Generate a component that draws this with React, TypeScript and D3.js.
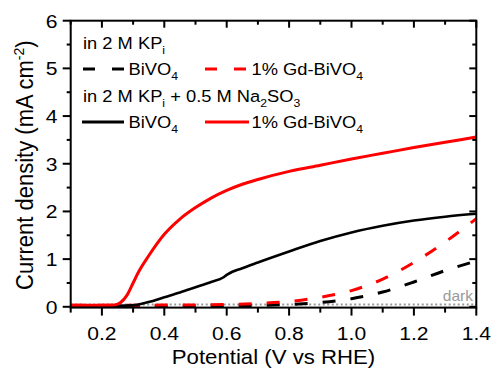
import React from "react";
import * as d3 from "d3";

const potBlackSolid = [0.10, 0.20, 0.25, 0.30, 0.35, 0.40, 0.45, 0.50, 0.55, 0.59, 0.60, 0.65, 0.70, 0.80, 0.90, 1.00, 1.10, 1.20, 1.30, 1.40];
const jBlackSolid = [0.02, 0.02, 0.02, 0.03, 0.10, 0.20, 0.30, 0.41, 0.52, 0.62, 0.67, 0.81, 0.93, 1.16, 1.38, 1.56, 1.70, 1.81, 1.89, 1.95];

const potRedSolid = [0.10, 0.20, 0.24, 0.26, 0.28, 0.30, 0.32, 0.35, 0.40, 0.45, 0.50, 0.55, 0.60, 0.65, 0.70, 0.80, 0.90, 1.00, 1.10, 1.20, 1.30, 1.40];
const jRedSolid = [0.03, 0.03, 0.04, 0.09, 0.24, 0.50, 0.76, 1.07, 1.52, 1.84, 2.08, 2.28, 2.44, 2.57, 2.67, 2.84, 2.97, 3.10, 3.22, 3.34, 3.45, 3.56];

const potBlackDash = [0.10, 0.60, 0.70, 0.80, 0.90, 1.00, 1.10, 1.20, 1.30, 1.40];
const jBlackDash = [0.01, 0.02, 0.03, 0.05, 0.09, 0.17, 0.31, 0.52, 0.76, 0.96];

const potRedDash = [0.10, 0.50, 0.60, 0.70, 0.80, 0.90, 1.00, 1.10, 1.20, 1.30, 1.40];
const jRedDash = [0.03, 0.04, 0.05, 0.07, 0.11, 0.20, 0.34, 0.58, 0.93, 1.36, 1.85];

const potDark = [0.10, 1.40];
const jDark = [0.05, 0.05];

const xMajorTicks = [0.2, 0.4, 0.6, 0.8, 1.0, 1.2, 1.4];
const xMinorTicks = [0.1, 0.3, 0.5, 0.7, 0.9, 1.1, 1.3];
const yMajorTicks = [0, 1, 2, 3, 4, 5, 6];
const yMinorTicks = [0.5, 1.5, 2.5, 3.5, 4.5, 5.5];

const W = 492, H = 370;
const L = 70.7, R = 476.3, T = 20.7, B = 307.6;
const FONT = "'Liberation Sans', Arial, sans-serif";
const SX = 1.11;

function ST(props: { x: number; y: number; fs: number; anchor?: string; fill?: string; children: any }) {
  return (
    <text
      transform={`translate(${props.x},${props.y}) scale(${SX},1)`}
      fontSize={props.fs}
      textAnchor={props.anchor || "start"}
      fill={props.fill || "#000"}
    >
      {props.children}
    </text>
  );
}

export default function App() {
  const x = d3.scaleLinear().domain([0.1, 1.4]).range([L, R]);
  const y = d3.scaleLinear().domain([0, 6]).range([306.8, T]);

  const mk = (xs: number[], ys: number[]) =>
    d3.line<number>().x((_, i) => x(xs[i])).y((_, i) => y(ys[i])).curve(d3.curveMonotoneX)(xs as any) || "";

  const series = [
    { d: mk(potDark, jDark), color: "#999", dash: "2,2.5", w: 2 },
    { d: mk(potBlackDash, jBlackDash), color: "#000", dash: "13,15", w: 3 },
    { d: mk(potRedDash, jRedDash), color: "#f00", dash: "13,15", w: 3 },
    { d: mk(potBlackSolid, jBlackSolid), color: "#000", dash: undefined, w: 2.6 },
    { d: mk(potRedSolid, jRedSolid), color: "#f00", dash: undefined, w: 3 },
  ];

  const legFs = 16.5;
  const subFs = 11;
  const sd = 4.5;

  return (
    <svg width={W} height={H} style={{ position: "absolute", left: 0, top: 0, background: "#fff" }} fontFamily={FONT}>
      <defs>
        <clipPath id="plotclip">
          <rect x={L} y={T} width={R - L} height={B - T} />
        </clipPath>
      </defs>
      <rect x={0} y={0} width={W} height={H} fill="#fff" />
      <g clipPath="url(#plotclip)">
        {series.map((s, i) => (
          <path key={i} d={s.d} fill="none" stroke={s.color} strokeWidth={s.w} strokeDasharray={s.dash} strokeLinejoin="round" />
        ))}
      </g>
      <ST x={473} y={300.5} fs={14} fill="#999" anchor="end">dark</ST>

      {/* frame */}
      <rect x={L} y={T} width={R - L} height={B - T} fill="none" stroke="#000" strokeWidth={2} />

      {/* x ticks */}
      {xMajorTicks.map((t) => (
        <g key={"xm" + t}>
          <line x1={x(t)} x2={x(t)} y1={B} y2={B + 8} stroke="#000" strokeWidth={2} />
          <line x1={x(t)} x2={x(t)} y1={T} y2={T + 7} stroke="#000" strokeWidth={2} />
          <ST x={x(t)} y={340} fs={19} anchor="middle">{t.toFixed(1)}</ST>
        </g>
      ))}
      {xMinorTicks.map((t) => (
        <g key={"xn" + t}>
          <line x1={x(t)} x2={x(t)} y1={B} y2={B + 5} stroke="#000" strokeWidth={2} />
          <line x1={x(t)} x2={x(t)} y1={T} y2={T + 4} stroke="#000" strokeWidth={2} />
        </g>
      ))}
      {/* y ticks */}
      {yMajorTicks.map((t) => (
        <g key={"ym" + t}>
          <line x1={L - 8} x2={L} y1={y(t)} y2={y(t)} stroke="#000" strokeWidth={2} />
          <line x1={R - 7} x2={R} y1={y(t)} y2={y(t)} stroke="#000" strokeWidth={2} />
          <ST x={57.5} y={y(t) + 6.8} fs={19} anchor="end">{t}</ST>
        </g>
      ))}
      {yMinorTicks.map((t) => (
        <g key={"yn" + t}>
          <line x1={L - 4} x2={L} y1={y(t)} y2={y(t)} stroke="#000" strokeWidth={2} />
          <line x1={R - 4} x2={R} y1={y(t)} y2={y(t)} stroke="#000" strokeWidth={2} />
        </g>
      ))}

      {/* axis titles */}
      <ST x={273.5} y={364} fs={20} anchor="middle">Potential (V vs RHE)</ST>
      <text transform={`translate(33,${(T + B) / 2 + 1}) scale(${SX},1) rotate(-90)`} fontSize={22} textAnchor="middle">
        Current density (mA cm<tspan dy={-8} fontSize={14}>-2</tspan><tspan dy={8}>)</tspan>
      </text>

      {/* legend */}
      <g>
        <ST x={83} y={49} fs={legFs}>in 2 M KP<tspan dy={sd} fontSize={subFs}>i</tspan></ST>
        <line x1={83} x2={124} y1={69} y2={69} stroke="#000" strokeWidth={3} strokeDasharray="12,17" />
        <ST x={128.5} y={75} fs={legFs}>BiVO<tspan dy={sd} fontSize={subFs}>4</tspan></ST>
        <line x1={205} x2={250} y1={69} y2={69} stroke="#f00" strokeWidth={3} strokeDasharray="12,17" />
        <ST x={251.5} y={75} fs={legFs}>1% Gd-BiVO<tspan dy={sd} fontSize={subFs}>4</tspan></ST>

        <ST x={83} y={102} fs={legFs}>in 2 M KP<tspan dy={sd} fontSize={subFs}>i</tspan><tspan dy={-sd}> + 0.5 M Na</tspan><tspan dy={sd} fontSize={subFs}>2</tspan><tspan dy={-sd}>SO</tspan><tspan dy={sd} fontSize={subFs}>3</tspan></ST>
        <line x1={82} x2={124} y1={122} y2={122} stroke="#000" strokeWidth={3} />
        <ST x={128.5} y={128} fs={legFs}>BiVO<tspan dy={sd} fontSize={subFs}>4</tspan></ST>
        <line x1={205} x2={249} y1={122} y2={122} stroke="#f00" strokeWidth={3} />
        <ST x={251.5} y={128} fs={legFs}>1% Gd-BiVO<tspan dy={sd} fontSize={subFs}>4</tspan></ST>
      </g>
    </svg>
  );
}
